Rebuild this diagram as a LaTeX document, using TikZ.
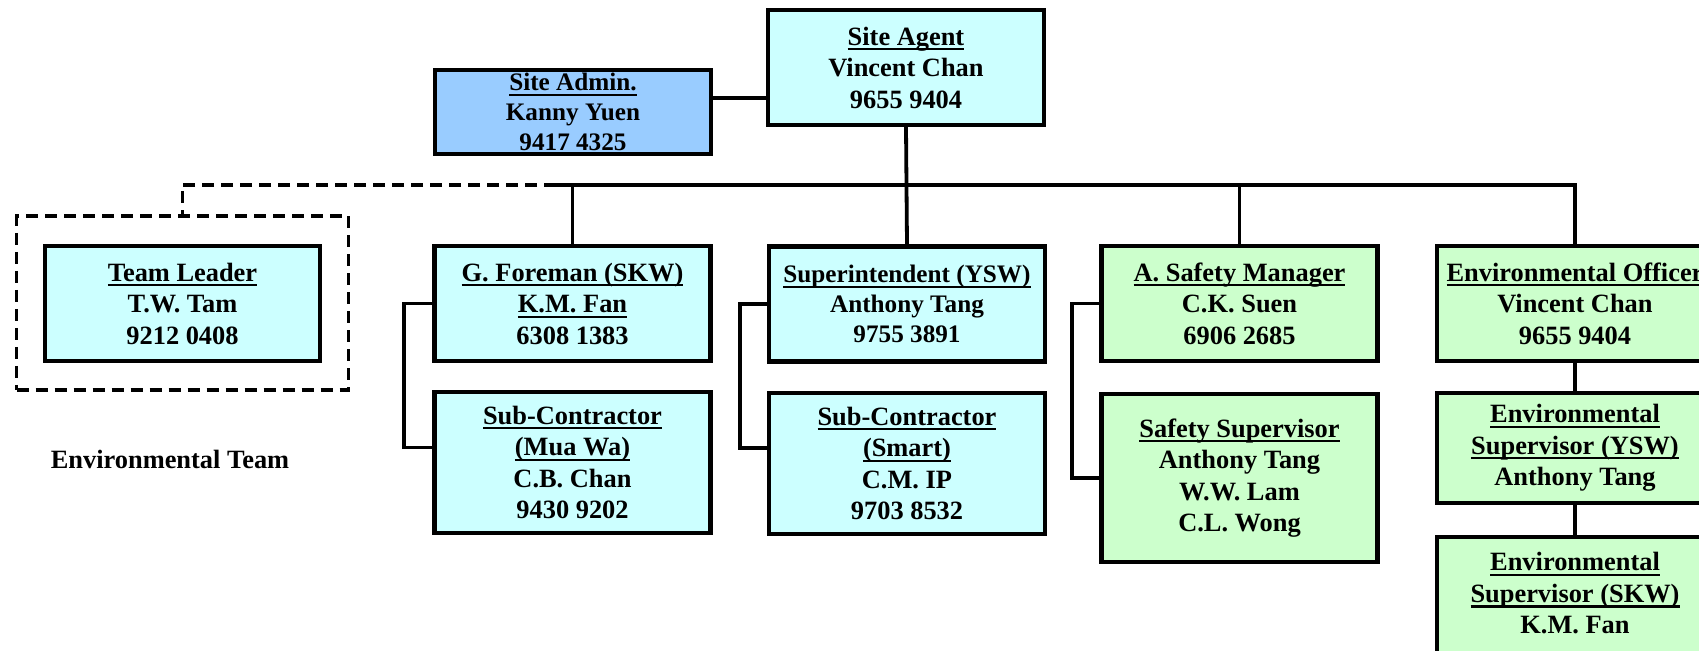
\documentclass[tikz,border=0pt]{standalone}
\usepackage{fontspec}
\setmainfont{Liberation Serif}
\newcommand\myul[1]{\leavevmode\setbox0=\hbox{#1}\rlap{\rule[-2.6pt]{\wd0}{1.1pt}}\box0}
\definecolor{cyanbox}{HTML}{CCFFFF}
\definecolor{bluebox}{HTML}{99CCFF}
\definecolor{greenbox}{HTML}{CCFFCC}
\begin{document}
\begin{tikzpicture}[x=0.5pt,y=-0.5pt,
  box/.style={draw=black,line width=2.2pt,minimum width=138pt,minimum height=#1,inner sep=0pt,align=center,
    font=\fontsize{13.2}{15.75}\selectfont\bfseries},
  box/.default=57.5pt,
  smallfont/.style={font=\fontsize{12.6}{15}\selectfont\bfseries},
  conn/.style={line width=1.9pt},
  grp/.style={draw=black,line width=1.8pt,dash pattern=on 6pt off 3.5pt,minimum width=166pt,minimum height=87pt,inner sep=0pt},
  label/.style={font=\fontsize{13.2}{15.75}\selectfont\bfseries,inner sep=0pt}]
\useasboundingbox (0,0) rectangle (1699,651);
\clip (0,0) rectangle (1699,651);
% top
\node[box,fill=cyanbox] (agent) at (906,67.5) {\myul{Site Agent}\\Vincent Chan\\9655 9404};
\node[box=42pt,fill=bluebox,smallfont] (admin) at (573,112) {\myul{Site Admin.}\\Kanny Yuen\\9417 4325};
% environmental team
\node[grp] (envgrp) at (182.5,303) {};
\node[box,fill=cyanbox,minimum width=137.5pt] (team) at (182.5,303.5) {\myul{Team Leader}\\T.W. Tam\\9212 0408};
\node[label] (envlbl) at (170,459) {Environmental Team};
% row 1
\node[box,fill=cyanbox] (fore) at (572.5,303.5) {\myul{G. Foreman (SKW)}\\\myul{K.M. Fan}\\6308 1383};
\node[box,fill=cyanbox,smallfont] (super) at (907,304) {\myul{Superintendent (YSW)}\\Anthony Tang\\9755 3891};
\node[box,fill=greenbox] (safety) at (1239.5,303.5) {\myul{A. Safety Manager}\\C.K. Suen\\6906 2685};
\node[box,fill=greenbox] (eo) at (1575,303.5) {\myul{Environmental Officer}\\Vincent Chan\\9655 9404};
% row 2
\node[box=70.5pt,fill=cyanbox] (mua) at (572.5,462.5) {\myul{Sub-Contractor}\\\myul{(Mua Wa)}\\C.B. Chan\\9430 9202};
\node[box=70.5pt,fill=cyanbox] (smart) at (907,463.5) {\myul{Sub-Contractor}\\\myul{(Smart)}\\C.M. IP\\9703 8532};
\node[box=84pt,fill=greenbox] (safsup) at (1239.5,478) {\myul{Safety Supervisor}\\Anthony Tang\\W.W. Lam\\C.L. Wong};
\node[box=55pt,fill=greenbox] (esy) at (1575,448) {\myul{Environmental}\\\myul{Supervisor (YSW)}\\Anthony Tang};
\node[box=72pt,fill=greenbox] (esk) at (1575,609) {\myul{Environmental}\\\myul{Supervisor (SKW)}\\K.M. Fan\\\phantom{K}};
% connectors
\coordinate (yA) at (0,98);
\coordinate (busL) at (556,185);
\draw[conn] (admin.east |- yA) -- (agent.west |- yA);
\draw[conn] (agent.south) -- (super.north);
\draw[conn] (busL) -- (eo.north |- busL) -- (eo.north);
\draw[conn] (fore.north |- busL) -- (fore.north);
\draw[conn] (safety.north |- busL) -- (safety.north);
\draw[conn,dash pattern=on 6pt off 3.5pt] (busL) -| (envgrp.north);
\draw[conn] (fore.west) -- ++(-28,0) |- ([yshift=7.5pt]mua.west);
\draw[conn] (super.west) -- ++(-27,0) |- ([yshift=7.75pt]smart.west);
\draw[conn] (safety.west) -- ++(-27,0) |- (safsup.west);
\draw[conn] (eo.south) -- (esy.north);
\draw[conn] (esy.south) -- (esk.north);
\end{tikzpicture}
\end{document}
